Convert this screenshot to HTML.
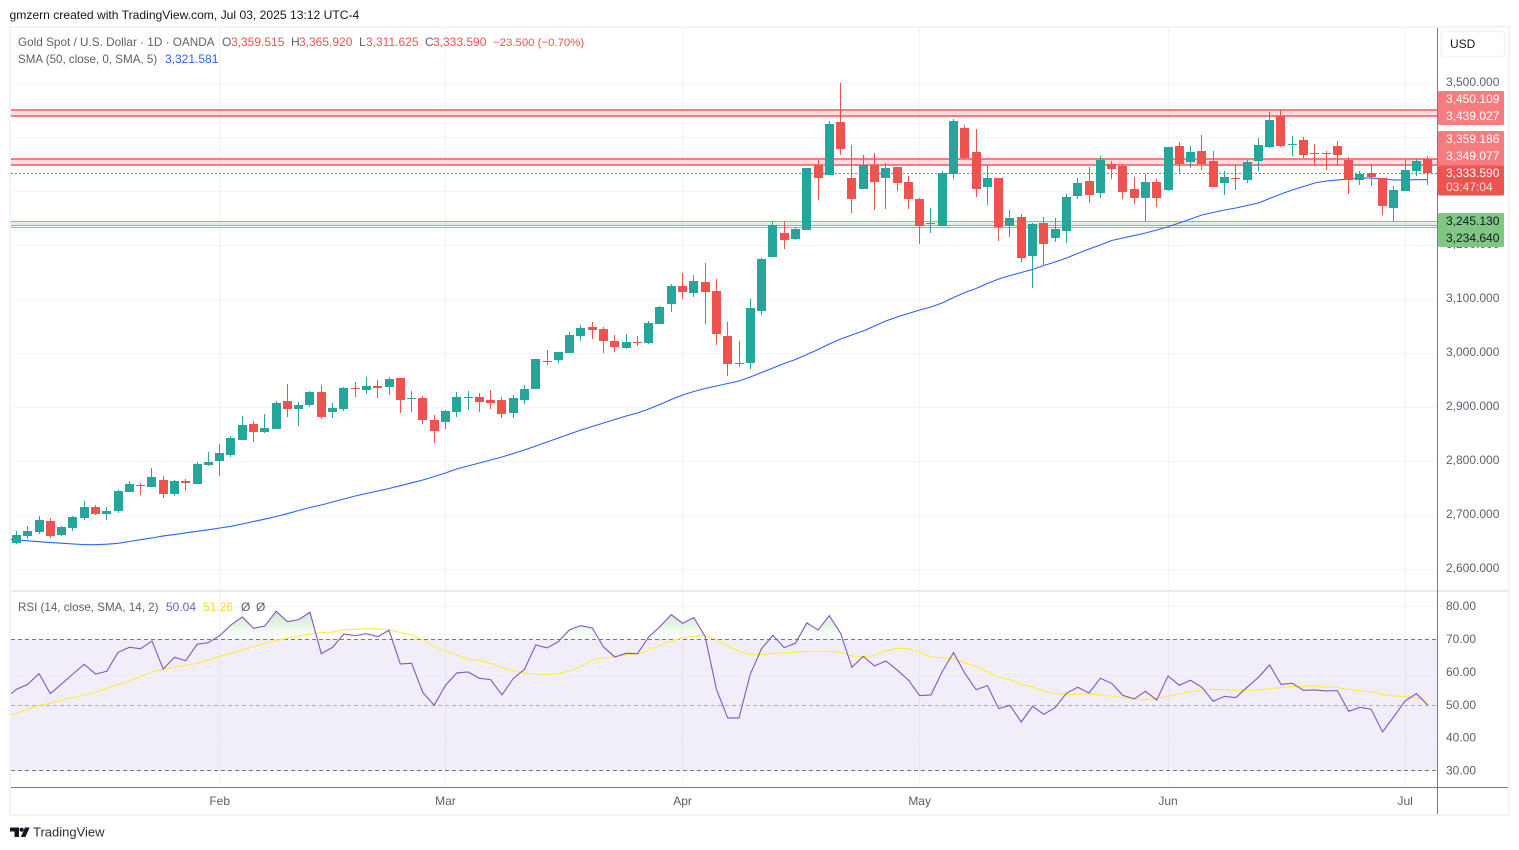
<!DOCTYPE html>
<html lang="en">
<head>
<meta charset="utf-8">
<title>Gold Spot / U.S. Dollar chart</title>
<style>
html,body{margin:0;padding:0;background:#fff;width:1519px;height:850px;overflow:hidden}
svg{display:block;font-family:"Liberation Sans",Arial,sans-serif}
text{font-size:12px}
</style>
</head>
<body>
<svg id="chart" xmlns="http://www.w3.org/2000/svg" width="1519" height="850" viewBox="0 0 1519 850">
  <defs>
    <clipPath id="price-clip"><rect x="11" y="28" width="1426" height="562"/></clipPath>
    <clipPath id="rsi-clip"><rect x="11" y="592" width="1426" height="195"/></clipPath>
    <clipPath id="ob-clip"><rect x="11" y="592" width="1426" height="47.5"/></clipPath>
    <linearGradient id="ob-grad" gradientUnits="userSpaceOnUse" x1="0" y1="610" x2="0" y2="639.5">
      <stop offset="0" stop-color="#4caf50" stop-opacity="0.28"/>
      <stop offset="1" stop-color="#4caf50" stop-opacity="0"/>
    </linearGradient>
  </defs>

  <text x="9.5" y="19" fill="#131722" style="font-size:12.12px">gmzern created with TradingView.com, Jul 03, 2025 13:12 UTC-4</text>

  <g id="grid"></g>
  <rect x="11" y="639" width="1426" height="132" fill="#7e57c2" fill-opacity="0.1"/>
  <g id="rsi-grid"></g>

  <g clip-path="url(#price-clip)">
    <g id="zones"></g>
    <path id="sma-line" fill="none" stroke="#2962ff" stroke-width="1.1"/>
    <g id="candles"></g>
  </g>

  <g clip-path="url(#rsi-clip)">
    <line x1="11" x2="1437" y1="639.5" y2="639.5" stroke="#787b86" stroke-dasharray="4 3"/>
    <line x1="11" x2="1437" y1="705.5" y2="705.5" stroke="#787b86" stroke-opacity="0.55" stroke-dasharray="4 3"/>
    <line x1="11" x2="1437" y1="770.5" y2="770.5" stroke="#787b86" stroke-dasharray="4 3"/>
    <g clip-path="url(#ob-clip)">
      <path id="rsi-ob" fill="url(#ob-grad)"/>
    </g>
    <path id="rsi-sma-line" fill="none" stroke="#ffeb3b" stroke-width="1.1"/>
    <path id="rsi-line" fill="none" stroke="#7e57c2" stroke-width="1.1"/>
  </g>

  <g id="frame">
    <rect x="10" y="27" width="1499" height="788" fill="none" stroke="#f0f3fa" stroke-width="2"/>
    <line x1="11" x2="1508" y1="591" y2="591" stroke="#e0e3eb" stroke-width="1.5"/>
    <line x1="11" x2="1508" y1="787.5" y2="787.5" stroke="#787b86"/>
    <line x1="1437.5" x2="1437.5" y1="28" y2="814" stroke="#787b86"/>
  </g>

  <g>
    <text x="18" y="46" fill="#5d606b" style="font-size:11.76px">Gold Spot / U.S. Dollar · 1D · OANDA</text>
    <text x="222" y="46" fill="#5d606b">O</text>
    <text x="231" y="46" fill="#ef5350">3,359.515</text>
    <text x="291" y="46" fill="#5d606b">H</text>
    <text x="299" y="46" fill="#ef5350">3,365.920</text>
    <text x="359" y="46" fill="#5d606b">L</text>
    <text x="366" y="46" fill="#ef5350">3,311.625</text>
    <text x="425" y="46" fill="#5d606b">C</text>
    <text x="433" y="46" fill="#ef5350">3,333.590</text>
    <text x="493" y="46" fill="#ef5350" style="font-size:11.4px">−23.500 (−0.70%)</text>
    <text x="18" y="63" fill="#5d606b" style="font-size:11.6px">SMA (50, close, 0, SMA, 5)</text>
    <text x="165" y="63" fill="#2962ff">3,321.581</text>
  </g>
  <g>
    <text x="18" y="611" fill="#5d606b" style="font-size:11.6px">RSI (14, close, SMA, 14, 2)</text>
    <text x="166" y="611" fill="#7e57c2">50.04</text>
    <text x="203" y="611" fill="#f5dc2a">51.26</text>
    <text x="241" y="611" fill="#5d606b">Ø</text>
    <text x="256" y="611" fill="#5d606b">Ø</text>
  </g>

  <g id="price-labels"></g>
  <g id="rsi-labels"></g>
  <g id="time-labels"></g>

  <g>
    <rect x="1441" y="31.5" width="64" height="25" rx="3" fill="#fff" stroke="#f0f3fa" stroke-width="1.5"/>
    <text x="1450" y="48" fill="#131722">USD</text>
  </g>

  <g>
    <rect x="1438" y="91" width="66" height="34" rx="1.5" fill="#f77c80"/>
    <text x="1446" y="103" fill="#fff">3,450.109</text>
    <text x="1446" y="120" fill="#fff">3,439.027</text>
    <rect x="1438" y="131" width="66" height="35" rx="1.5" fill="#f77c80"/>
    <text x="1446" y="143" fill="#fff">3,359.186</text>
    <text x="1446" y="160" fill="#fff">3,349.077</text>
    <rect x="1438" y="165.5" width="66" height="30" rx="1.5" fill="#ef5350"/>
    <text x="1446" y="177" fill="#fff">3,333.590</text>
    <text x="1446" y="191" fill="#fff" fill-opacity="0.8">03:47:04</text>
    <rect x="1438" y="213" width="66" height="34" rx="1.5" fill="#81c784"/>
    <text x="1446" y="225" fill="#131722">3,245.130</text>
    <text x="1446" y="242" fill="#131722">3,234.640</text>
  </g>

  <g>
    <g fill="#131722">
      <path d="M10 827.5h9v9.5h-4.5v-5.5H10z"/>
      <circle cx="21.6" cy="829.7" r="2.1"/>
      <path d="M25 827.5h4.6L25.4 837h-4.6z"/>
    </g>
    <text x="33" y="836.5" fill="#2a2e39" style="font-size:13px">TradingView</text>
  </g>
</svg>

<script>
/* ---------- candle data (USD) ---------- */
var opens = [2649,2662,2669,2689,2664,2677,2695,2715,2702,2708,
2743,2756,2752,2765,2739,2764,2758,2793,2801,2812,
2839,2869,2854,2860,2912,2897,2904,2928,2891,2897,
2936,2932,2939,2938,2954,2915,2917,2877,2873,2891,
2917,2919,2914,2914,2889,2914,2934,2984,2988,3001,
3032,3049,3045,3023,3010,3021,3019,3054,3091,3125,
3112,3132,3115,3032,2980,2982,3078,3178,3223,3212,
3228,3349,3330,3428,3325,3304,3349,3325,3345,3317,
3286,3239,3236,3332,3417,3373,3308,3325,3236,3252,
3180,3241,3213,3226,3291,3319,3297,3351,3347,3304,
3288,3317,3302,3384,3354,3375,3356,3315,3325,3321,
3356,3382,3439,3386,3395,3371,3371,3384,3358,3321,
3334,3325,3269,3301,3338,3359.515];
var highs = [2671,2680,2699,2695,2680,2699,2727,2719,2715,2747,
2764,2760,2788,2773,2765,2767,2799,2817,2832,2847,
2884,2875,2888,2912,2943,2910,2930,2941,2908,2938,
2947,2956,2951,2956,2955,2930,2921,2886,2895,2928,
2930,2927,2932,2919,2923,2941,2989,3006,3002,3039,
3052,3058,3049,3034,3036,3032,3060,3088,3128,3149,
3145,3167,3138,3058,3023,3101,3177,3245,3245,3234,
3343,3358,3430,3500,3386,3367,3371,3352,3345,3328,
3288,3269,3338,3434,3423,3415,3347,3325,3265,3258,
3241,3252,3251,3295,3325,3345,3365,3356,3351,3326,
3332,3323,3382,3391,3384,3404,3375,3338,3349,3358,
3399,3447,3451,3402,3401,3388,3375,3393,3364,3338,
3351,3325,3310,3358,3360,3365.92];
var lows = [2647,2656,2665,2658,2662,2671,2691,2701,2691,2704,
2743,2738,2752,2732,2736,2745,2758,2791,2773,2808,
2839,2836,2852,2860,2882,2865,2901,2878,2880,2893,
2919,2925,2917,2923,2889,2891,2869,2834,2860,2882,
2895,2891,2897,2880,2880,2906,2934,2978,2982,3001,
3023,3027,3001,3002,3008,3014,3017,3054,3077,3101,
3104,3054,3015,2958,2975,2971,3071,3178,3193,3210,
3228,3284,3330,3367,3260,3304,3265,3267,3301,3267,
3202,3223,3236,3323,3358,3289,3275,3208,3215,3169,
3121,3162,3206,3204,3286,3278,3288,3323,3286,3276,
3245,3271,3300,3334,3343,3339,3308,3293,3302,3315,
3338,3380,3382,3365,3362,3347,3339,3347,3295,3312,
3310,3256,3245,3301,3328,3311.625];
var closes = [2664,2671,2691,2662,2678,2697,2715,2702,2708,2745,
2758,2754,2771,2739,2764,2760,2795,2799,2815,2843,
2867,2854,2862,2908,2897,2904,2928,2882,2899,2936,
2934,2939,2936,2952,2914,2917,2877,2856,2893,2919,
2919,2910,2908,2888,2917,2934,2989,2986,3002,3034,
3047,3043,3023,3012,3021,3019,3056,3086,3125,3114,
3134,3114,3036,2980,2982,3084,3175,3238,3210,3230,
3343,3325,3425,3378,3286,3349,3317,3343,3315,3286,
3236,3241,3334,3430,3362,3304,3325,3234,3251,3177,
3239,3202,3230,3289,3315,3293,3358,3341,3299,3288,
3317,3288,3382,3351,3373,3351,3308,3326,3323,3354,
3386,3432,3384,3388,3367,3369,3369,3367,3321,3332,
3326,3273,3302,3339,3356,3333.59];

/* ---------- indicator data: first value belongs to the bar just left of the view ---------- */
var smaValues = [2656.1,2654.3,2652.8,2651.1,2649.6,2648.3,2646.9,2645.7,2645.6,2646.5,2648.1,
2651.5,2654.8,2658,2661.7,2664.4,2667.6,2670.4,2673.1,2676.5,2679.6,
2683.9,2688.5,2693.1,2697.8,2703,2708.9,2714.4,2719.1,2724.6,2730.2,
2735.7,2740.4,2745,2749.6,2754.8,2760.2,2765.4,2771.9,2778.3,2785.7,
2791.3,2796.9,2802.4,2808,2814.4,2820.9,2828.3,2835.7,2843.1,2850.6,
2858,2864.4,2870.9,2877.4,2883.9,2889.4,2896.9,2905.2,2914.4,2922.8,
2929.3,2934.8,2939.4,2944.1,2948.7,2956.1,2964.4,2972.8,2981.1,2988.5,
2997.8,3007,3017.2,3026.5,3033.9,3041.3,3050.6,3059.8,3067.2,3073.7,
3080.2,3085.7,3093.1,3103.3,3112.6,3120,3129.3,3137.6,3144.1,3149.6,
3155.2,3162.6,3169.1,3176.5,3184.8,3193.1,3200.6,3208.9,3213.5,3218.1,
3222.8,3228.3,3234.4,3241.3,3248.7,3256.1,3260.7,3265.4,3269.1,3273.7,
3278.3,3286.7,3295,3302.4,3308.9,3315.4,3319.1,3321,3322.8,3324.6,
3324.6,3322.8,3321,3321,3321.5,3321.581];
var rsiValues = [52.13,54.86,56.38,59.63,53.55,56.48,59.52,62.46,59.52,60.33,66.11,
67.63,67.22,69.55,61.04,64.59,63.58,68.54,69.05,71.18,74.42,
76.85,73.4,74.11,78.57,75.43,76.04,78.27,65.7,67.63,71.68,
71.18,71.78,70.87,72.8,62.56,62.77,53.85,50,56.08,59.83,
60.13,58.21,57.8,53.14,58.11,60.94,68.34,67.43,69.35,73,
74.21,73.5,67.73,64.69,65.81,65.7,70.77,73.91,77.56,74.92,
76.65,70.87,54.86,46.15,46.15,59.5,67.22,71.28,67.53,68.84,
75.03,72.9,77.25,71.88,61.55,64.89,61.96,63.48,60.74,57.7,
52.94,53.14,60.23,66.01,59.73,54.76,55.98,48.99,50,44.93,
49.7,47.26,49.29,53.65,55.47,53.75,58.21,56.69,53,51.93,
54.26,51.62,58.92,56.08,57.6,55.47,51.22,52.74,52.33,55.47,
58.51,62.26,56.38,56.69,54.56,54.66,54.36,54.46,48.18,49.39,
48.78,41.89,46.56,51.32,53.55,50.04];
var rsiSmaValues = [46.96,47.47,48.78,50,50.61,51.52,52.33,53.14,54.05,55.17,56.38,
57.4,58.71,60.23,60.94,61.55,62.06,62.77,63.78,64.89,65.81,
66.82,67.83,68.84,69.76,70.36,71.07,71.68,72.09,72.29,72.9,
73.1,73.3,73.2,73,72.09,71.38,69.86,67.83,66.51,65.3,
64.08,63.58,62.77,61.45,60.44,59.83,59.52,59.22,59.73,60.44,
61.85,63.68,64.49,64.79,65.3,65.7,66.72,68.14,69.55,70.47,
70.97,71.28,70.06,68.14,66.41,65.4,65.4,65.81,65.91,66.11,
66.41,66.41,66.41,66.11,65,64.79,65.1,66.51,67.33,67.22,
66.01,64.79,64.39,64.18,63.07,61.75,60.23,58.61,57.8,56.38,
55.57,54.36,53.65,53.24,53.34,53.44,53.24,52.74,52.33,51.93,
51.82,52.13,52.74,53.55,54.05,54.66,54.86,54.76,54.56,54.56,
54.66,55.07,55.37,55.78,55.78,55.88,55.57,55.47,54.76,54.36,
54.15,53.34,52.84,52.63,52.23,51.26];

/* ---------- axes data ---------- */
var priceTicks = [3500,3400,3300,3200,3100,3000,2900,2800,2700,2600];
var rsiTicks = [80,70,60,50,40,30];
var rsiGridTicks = [80,60,40];
var monthLabels = ["Feb","Mar","Apr","May","Jun","Jul"];
var monthBars = [18,38,59,80,102,123];
var lastClose = 3333.59;
var resistanceZones = [[3450.109,3439.027],[3359.186,3349.077]];
var supportZones = [[3245.13,3237.5],[3234.64,3234.64]];

/* ---------- axis functions ---------- */
function xBar(i){ return 16.45 + 11.29*i; }
function yPrice(p){ return 299.3 - (p-3100)*0.54; }
function yRsi(r){ return 705.3 - (r-50)*3.29; }

var NS = "http://www.w3.org/2000/svg";
function make(tag, parent, props){
  var el = document.createElementNS(NS, tag);
  for (var k in props) el.setAttribute(k, props[k]);
  parent.appendChild(el);
  return el;
}
function fmtPrice(p){
  var s = p.toFixed(3), a = s.split(".");
  return a[0].replace(/\B(?=(\d{3})+$)/g, ",") + "." + a[1];
}
function linePath(values, yFn){
  var d = "";
  for (var i = 0; i < values.length; i++){
    d += (i ? "L" : "M") + xBar(i-1).toFixed(2) + " " + yFn(values[i]).toFixed(2);
  }
  return d;
}

/* grid */
var gridG = document.getElementById("grid");
priceTicks.forEach(function(t){
  var y = Math.floor(yPrice(t)) + 0.5;
  var l = make("line", gridG, {x1:11, x2:1437, y1:y, y2:y, stroke:"#f0f3fa"});
  
  
});
monthBars.forEach(function(b){
  var x = Math.floor(xBar(b)) + 0.5;
  var l = make("line", gridG, {x1:x, x2:x, y1:28, y2:787, stroke:"#f0f3fa"});
  
  
});
var rsiGridG = document.getElementById("rsi-grid");
rsiGridTicks.forEach(function(t){
  var y = Math.floor(yRsi(t)) + 0.5;
  var l = make("line", rsiGridG, {x1:11, x2:1437, y1:y, y2:y, stroke:"#f0f3fa"});
  
  
});

/* zones: edges snapped to whole pixels so they stay crisp */
var zonesG = document.getElementById("zones");
function drawZone(z, color, sw, snap){
  var yTop = Math.round(yPrice(z[0])) + snap, yBot = Math.round(yPrice(z[1])) + snap;
  if (yBot > yTop){
    var r = make("rect", zonesG, {x:11, y:yTop, width:1426, height:yBot-yTop, fill:color, "fill-opacity":0.25});
    
    
  }
  var edges = yBot > yTop ? [yTop, yBot] : [yTop];
  edges.forEach(function(y){
    var l = make("line", zonesG, {x1:11, x2:1437, y1:y, y2:y, stroke:color, "stroke-width":sw});
    
    
  });
}
resistanceZones.forEach(function(z){ drawZone(z, "#f77c80", 2, 0); });
supportZones.forEach(function(z){ drawZone(z, "#81c784", 1, 0.5); });
var lastY = Math.floor(yPrice(lastClose)) + 0.5;
var lastLine = make("line", zonesG, {x1:11, x2:1437, y1:lastY, y2:lastY, stroke:"#ef5350", "stroke-dasharray":"2 2"});



/* indicator lines */
document.getElementById("sma-line").setAttribute("d", linePath(smaValues, yPrice));
document.getElementById("rsi-line").setAttribute("d", linePath(rsiValues, yRsi));
document.getElementById("rsi-sma-line").setAttribute("d", linePath(rsiSmaValues, yRsi));
document.getElementById("rsi-ob").setAttribute("d",
  linePath(rsiValues, yRsi) + "L" + xBar(rsiValues.length-2).toFixed(2) + " " + yRsi(70) +
  "L" + xBar(-1).toFixed(2) + " " + yRsi(70) + "Z");

/* candles */
var candleG = document.getElementById("candles");
closes.forEach(function(c, i){
  var o = opens[i], up = c >= o, col = up ? "#26a69a" : "#ef5350";
  var left = Math.floor(xBar(i));
  var top = Math.round(yPrice(Math.max(o,c)));
  var bot = Math.round(yPrice(Math.min(o,c)));
  var wt = Math.round(yPrice(highs[i])), wb = Math.round(yPrice(lows[i]));
  var wick = make("rect", candleG, {x:left, y:wt, width:1, height:Math.max(1,wb-wt), fill:col, "shape-rendering":"crispEdges"});
  
  
  var body = make("rect", candleG, {x:left-4, y:top, width:9, height:Math.max(1,bot-top), fill:col, "shape-rendering":"crispEdges"});
  
  
});

/* axis labels */
var pl = document.getElementById("price-labels");
priceTicks.forEach(function(t){
  var e = make("text", pl, {x:1446, y:yPrice(t)+2.7, fill:"#5d606b"});
  
  
  e.textContent = fmtPrice(t);
});
var rl = document.getElementById("rsi-labels");
rsiTicks.forEach(function(t){
  var e = make("text", rl, {x:1446, y:yRsi(t)+3.5, fill:"#5d606b"});
  
  
  e.textContent = t.toFixed(2);
});
var tl = document.getElementById("time-labels");
monthLabels.forEach(function(m, i){
  var e = make("text", tl, {x:xBar(monthBars[i]), y:805, fill:"#5d606b", "text-anchor":"middle"});
  
  
  e.textContent = m;
});
</script>
</body>
</html>
